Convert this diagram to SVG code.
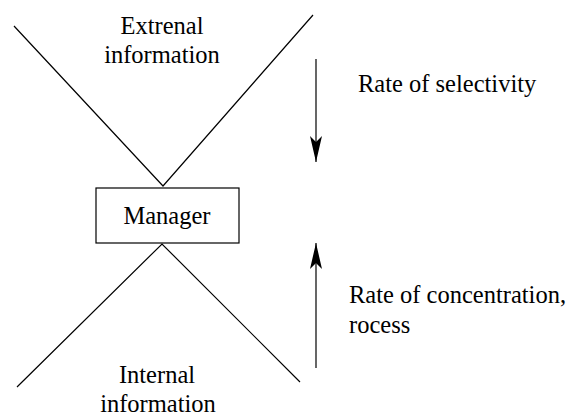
<svg xmlns="http://www.w3.org/2000/svg" width="585" height="417" viewBox="0 0 585 417">
<style>
.t{font-family:'Liberation Serif','Times New Roman',Times,serif;font-size:24.5px;fill:#000}
.c{text-anchor:middle}
.s{stroke:#000;stroke-width:1.2;fill:none}
</style>
<defs>
<marker id="ah" markerWidth="26" markerHeight="12" refX="26" refY="6" orient="auto" markerUnits="userSpaceOnUse" viewBox="0 0 26 12">
<path d="M0,0 L26,6 L0,12 L6,6 Z" fill="#000" stroke="none"/>
</marker>
</defs>
<rect width="585" height="417" fill="#fff"/>
<g id="external">
<polyline class="s" points="14,26 163,186 313,15"/>
<text class="t c" font-family="Liberation Serif, serif" x="162" y="34">Extrenal</text>
<text class="t c" font-family="Liberation Serif, serif" x="162" y="63">information</text>
</g>
<g id="manager">
<rect class="s" x="96" y="188" width="143" height="55"/>
<text class="t c" font-family="Liberation Serif, serif" x="167" y="224">Manager</text>
</g>
<g id="internal">
<polyline class="s" points="17,387 162,244 300,382"/>
<text class="t c" font-family="Liberation Serif, serif" x="157" y="383">Internal</text>
<text class="t c" font-family="Liberation Serif, serif" x="158" y="412">information</text>
</g>
<g id="connectors">
<line class="s" x1="316" y1="59" x2="316" y2="162" marker-end="url(#ah)"/>
<line class="s" x1="316" y1="368" x2="316" y2="243" marker-end="url(#ah)"/>
</g>
<g id="labels">
<text class="t" font-family="Liberation Serif, serif" x="358" y="92">Rate of selectivity</text>
<text class="t" font-family="Liberation Serif, serif" x="349" y="303">Rate of concentration,</text>
<text class="t" font-family="Liberation Serif, serif" x="349" y="333">rocess</text>
</g>
</svg>
